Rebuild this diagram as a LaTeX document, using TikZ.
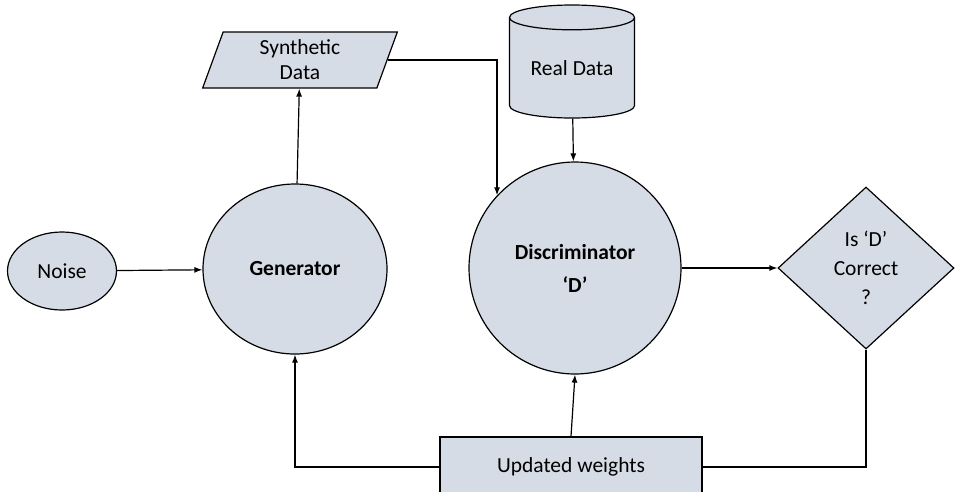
\documentclass[tikz,border=0pt]{standalone}
\usepackage{fontspec}
\setmainfont{Carlito}
\usetikzlibrary{shapes.geometric,arrows.meta}
\definecolor{shapefill}{HTML}{D6DCE5}
\begin{document}
\begin{tikzpicture}[x=1pt,y=-1pt,
  blk/.style={draw, fill=shapefill, line width=1.2pt, align=center, inner sep=0pt,
    font=\fontsize{21.5}{29}\selectfont},
  arr/.style={-{Latex[length=8pt,width=6pt]}, line width=1.2pt}]
\useasboundingbox (0,0) rectangle (955,491);
\node[blk, ellipse, minimum width=109, minimum height=78] (noise) at (62,271) {Noise};
\node[blk, ellipse, minimum width=184, minimum height=170] (gen) at (295,269) {\bfseries Generator};
\node[blk, trapezium, trapezium left angle=75, trapezium right angle=105, trapezium stretches=true,
  minimum width=195, minimum height=56, font=\fontsize{21.5}{25}\selectfont] (synth) at (300,60) {Synthetic\\Data};
\node[blk, cylinder, shape border rotate=90, aspect=0.3,
  minimum width=125, minimum height=113] (real) at (572,68) {Real Data};
\node[blk, circle, minimum size=212] (disc) at (575,268) {\bfseries Discriminator\\[4pt]\bfseries ‘D’};
\node[blk, diamond, minimum width=176, minimum height=162] (check) at (866,268) {Is ‘D’\\Correct\\?};
\node[blk, rectangle, minimum width=262, minimum height=60] (upd) at (571,467) {Updated weights};

\draw[arr] (noise) -- (gen);
\draw[arr] (gen) -- (synth);
\draw[arr] (synth.east) -| (disc.137);
\draw[arr] (real) -- (disc);
\draw[arr] (disc) -- (check);
\draw[line width=1.2pt] (check.south) |- (upd.east);
\draw[arr] (upd.north) -- (disc.south);
\draw[arr] (upd.west) -| (gen.south);
\end{tikzpicture}
\end{document}
